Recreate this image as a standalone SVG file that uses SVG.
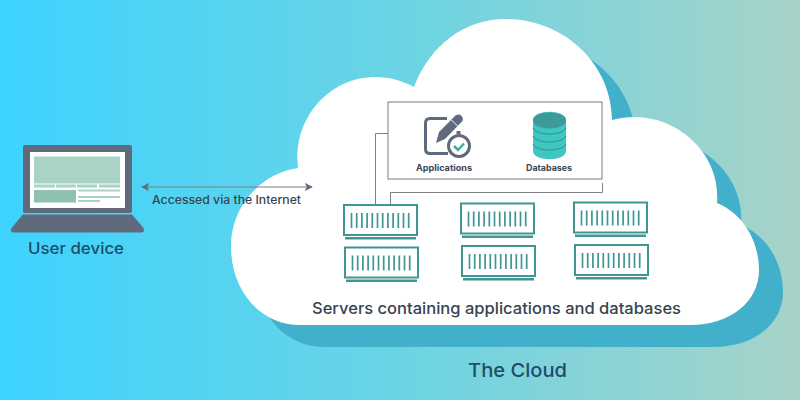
<svg xmlns="http://www.w3.org/2000/svg" width="800" height="400" viewBox="0 0 800 400">
  <style>
    text { font-family: "Inter", "Noto Sans", "Liberation Sans", sans-serif; }
    .lbl { font-weight: 500; fill: #36444f; }
    .blue { fill: #1f4d68; }
    .tiny { font-size: 9px; font-weight: 700; fill: #3b4654; text-anchor: middle; }
    .conn { fill: none; stroke: #7d7f82; stroke-width: 1; }
    .srv { fill: #fff; stroke: #3f9692; stroke-width: 2; }
    .tick { stroke: #3f9692; stroke-width: 1.700; }
    .bar { fill: #3f9692; }
    .lap { fill: #5f6b7c; }
    .pale { fill: #a8d3c5; }
  </style>
  <defs>
    <linearGradient id="sky" x1="0" y1="0" x2="1" y2="0">
      <stop offset="0" stop-color="#3dd3ff"/>
      <stop offset="0.5" stop-color="#6bd4e4"/>
      <stop offset="1" stop-color="#a7d3c8"/>
    </linearGradient>
    <path id="cloud" d="M300 325C260 325 231 290 231 247C231 205 262 173 298 168C292 118 330 77 375 77C390 77 403 81 414 87C430 45 465 19 505 19C565 19 612 65 612 120C668 105 722 150 717 203C742 213 759 240 759 270C759 302 730 325 690 325Z"/>
    <marker id="tip" viewBox="0 0 10 10" refX="9" refY="5" markerWidth="8" markerHeight="8" orient="auto-start-reverse" markerUnits="userSpaceOnUse">
      <path d="M0 0L10 5L0 10L2.500 5Z" fill="#5f6b7c"/>
    </marker>
    <g id="server">
      <rect class="srv" x="0" y="0" width="73" height="30"/>
      <rect class="bar" x="1" y="32" width="71" height="2.500"/>
      <path class="tick" d="M7.500 8V23M12.700 8V23M17.900 8V23M23.100 8V23M28.300 8V23M33.500 8V23M38.700 8V23M43.900 8V23M49.100 8V23M54.300 8V23M59.500 8V23M64.700 8V23"/>
    </g>
  </defs>

  <rect width="800" height="400" fill="url(#sky)"/>

  <g id="cloud-shape">
    <use href="#cloud" x="24" y="22" fill="#42afcb"/>
    <use href="#cloud" fill="#fff"/>
  </g>

  <g id="connectors">
    <path class="conn" d="M142 187H312" marker-start="url(#tip)" marker-end="url(#tip)"/>
    <path class="conn" d="M388 133.500H375.500V205"/>
    <path class="conn" d="M602.500 183V192.500H390.500V205"/>
  </g>

  <g id="user-device">
    <rect class="lap" x="23" y="145" width="109" height="68" rx="2"/>
    <path class="lap" d="M23 214.500H132L143.500 228Q145 232.500 141 232.500H14Q9.500 232.500 11.500 228Z"/>
    <rect x="30" y="152" width="95" height="56" fill="#fff"/>
    <rect class="pale" x="34" y="156.500" width="86" height="27"/>
    <path class="pale" d="M34 184.500h21v3h-21zM56 184.500h20v3h-20zM77 184.500h20v3h-20zM99 184.500h21v3h-21zM78 189.500h42v2h-42zM78 196h42v2h-42zM78 200h22v2h-22z"/>
    <rect x="34" y="190" width="42" height="12.500" fill="#8fc2ae"/>
    <text class="lbl blue" x="76" y="254" font-size="16" text-anchor="middle" textLength="96" lengthAdjust="spacingAndGlyphs">User device</text>
  </g>

  <text id="link-label" class="lbl" x="152" y="204" font-size="11.500" textLength="149" lengthAdjust="spacingAndGlyphs">Accessed via the Internet</text>

  <g id="services">
    <rect x="388" y="102" width="214" height="77" fill="#fff" stroke="#7d7f82" stroke-width="1"/>
    <g id="applications">
      <path d="M447 118.500H430Q425.500 118.500 425.500 123V149Q425.500 153.500 430 153.500H448" fill="none" stroke="#5f6b7c" stroke-width="3"/>
      <path d="M436 143L439 132L456 115L460 114.500L463 118L462.500 121L445 139Z" fill="#5f6b7c"/>
      <path d="M451.500 120L457.500 126" stroke="#fff" stroke-width="1"/>
      <rect x="456.500" y="131" width="4" height="3" fill="#5f6b7c"/>
      <circle cx="459" cy="146" r="10.500" fill="#fff" stroke="#5f6b7c" stroke-width="3"/>
      <path d="M454 146L458 150L464 143.500" fill="none" stroke="#3fae9c" stroke-width="2.500"/>
      <text class="tiny" x="444" y="171" textLength="56" lengthAdjust="spacingAndGlyphs">Applications</text>
    </g>
    <g id="databases">
      <path d="M533 120C533 109 566 109 566 120V151C566 162 533 162 533 151Z" fill="#3fc6c0"/>
      <path d="M533 128C537 136 562 136 566 128M533 136C537 144 562 144 566 136M533 144C537 152 562 152 566 144" fill="none" stroke="#2f8f8d" stroke-width="1"/>
      <ellipse cx="549.500" cy="120.500" rx="16.500" ry="8" fill="#3c9a9a"/>
      <text class="tiny" x="549" y="171" textLength="46" lengthAdjust="spacingAndGlyphs">Databases</text>
    </g>
  </g>

  <g id="servers">
    <use id="server-1" href="#server" x="344" y="205"/>
    <use id="server-2" href="#server" x="345" y="247.500"/>
    <use id="server-3" href="#server" x="461" y="203.500"/>
    <use id="server-4" href="#server" x="462" y="246"/>
    <use id="server-5" href="#server" x="574" y="202.500"/>
    <use id="server-6" href="#server" x="575" y="245"/>
  </g>

  <text id="servers-label" class="lbl" x="312" y="314" font-size="16" textLength="369" lengthAdjust="spacingAndGlyphs">Servers containing applications and databases</text>
  <text id="cloud-label" class="lbl blue" x="468" y="377" font-size="19" textLength="99" lengthAdjust="spacingAndGlyphs">The Cloud</text>
</svg>
